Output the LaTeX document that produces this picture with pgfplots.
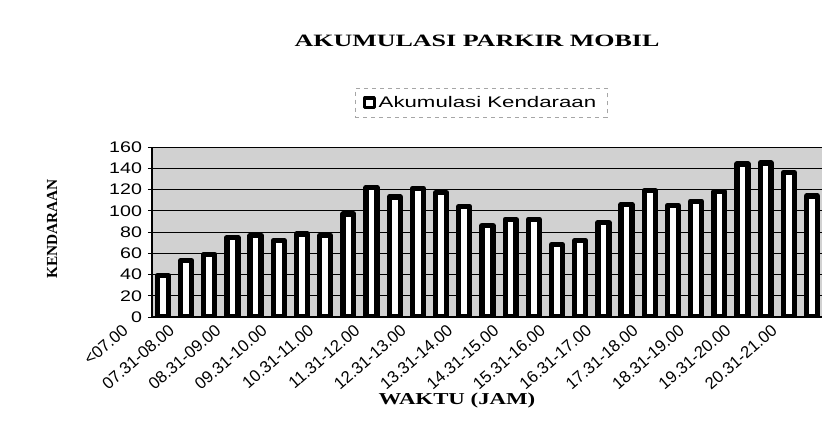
\documentclass[border=0pt]{standalone}
\usepackage{fontspec}
\setmainfont{Liberation Serif}
\newfontfamily\arial{Liberation Sans}
\usepackage{graphicx}
\usepackage{pgfplots}
\pgfplotsset{compat=1.18}
\pgfplotstableread{
x y
0 39
1 53
2 59
3 75
4 77
5 72
6 78
7 77
8 97
9 122
10 113
11 121
12 117
13 104
14 86
15 92
16 92
17 68
18 72
19 89
20 106
21 119
22 105
23 109
24 118
25 144
26 145
27 136
28 114
}\datatable
\begin{document}
\begin{tikzpicture}
\path[use as bounding box] (-114pt,-98.25pt) rectangle (509.25pt,237.75pt);
\begin{axis}[
  at={(0pt,0pt)}, anchor=south west,
  scale only axis, width=502.5pt, height=127.5pt,
  xmin=-0.47, xmax=28.43, ymin=0, ymax=160,
  ybar, bar width=8.2pt,
  ytick={0,20,...,160},
  xtick={0,2,...,28},
  xticklabels={<07.00,07.31-08.00,08.31-09.00,09.31-10.00,10.31-11.00,11.31-12.00,12.31-13.00,13.31-14.00,14.31-15.00,15.31-16.00,16.31-17.00,17.31-18.00,18.31-19.00,19.31-20.00,20.31-21.00},
  xtick style={draw=none},
  ytick style={black, line width=0.6pt},
  tick align=outside, major tick length=3pt,
  axis x line*=bottom, axis y line*=left,
  axis line style={black, line width=0.8pt},
  axis background/.style={fill=black!18},
  ymajorgrids, grid style={black, line width=0.6pt},
  /pgf/number format/assume math mode=true,
  yticklabel style={font=\arial\fontsize{11.5}{13}\selectfont, xscale=1.28},
  xticklabel style={font=\arial\fontsize{12.5}{14}\selectfont, xshift=-31pt, rotate=41, anchor=north east, inner sep=1pt},
  legend style={at={(0.491,1.259)}, anchor=center, draw=black!35, dashed, fill=none,
    font=\arial\fontsize{11.5}{13}\selectfont, inner xsep=6pt, inner ysep=4pt},
  legend image code/.code={\draw[solid, black, line width=2.5pt, fill=white, line join=round] (0pt,-3.6pt) rectangle (7.2pt,3.6pt);},
]
\addplot[draw=black, fill=white, line width=4pt, line join=round] table[x=x, y=y] {\datatable};
\addlegendentry{\scalebox{1.45}[1]{Akumulasi Kendaraan}}
\end{axis}
\node[font=\bfseries\fontsize{13}{15}\selectfont, xscale=1.5] at (243.75pt,207pt) {AKUMULASI PARKIR MOBIL};
\node[font=\bfseries\fontsize{12.5}{14}\selectfont, xscale=1.37] at (228.75pt,-62.25pt) {WAKTU (JAM)};
\node[font=\bfseries\fontsize{11.5}{13}\selectfont, rotate=90] at (-75pt,66pt) {KENDARAAN};
\end{tikzpicture}
\end{document}
